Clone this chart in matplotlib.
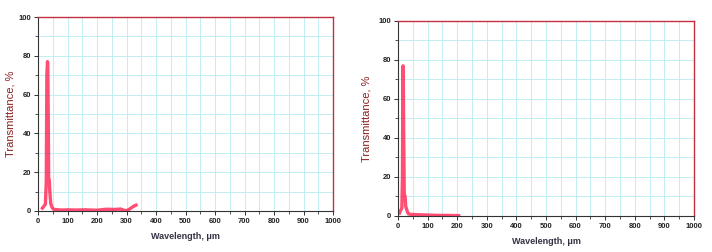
import matplotlib.pyplot as plt
import numpy as np

# Transmittance spectra
wl_a = [15, 20, 25, 28, 30, 32, 33, 34, 35, 36, 38, 40, 43, 47, 52, 60, 80, 100, 130,
        160, 200, 230, 260, 280, 295, 305, 315, 325, 332]
tr_a = [1.5, 2.5, 3.5, 15, 70, 77, 76, 60, 43, 17, 16, 10, 4, 2, 1, 0.7, 0.5, 0.6, 0.5,
        0.6, 0.4, 0.9, 0.8, 1.0, 0.2, 0.4, 1.5, 2.5, 3]

wl_b = [5, 8, 11, 13, 15, 16, 17, 18, 19, 20, 21, 22, 24, 26, 28, 32, 36, 45, 60, 80,
        100, 130, 160, 205]
tr_b = [1.5, 2.5, 3.5, 4, 20, 55, 77, 70, 45, 30, 12, 11, 10, 5, 4, 2, 1, 0.8, 0.7, 0.6,
        0.5, 0.3, 0.3, 0.2]

xticks = np.arange(0, 1001, 100)
yticks = np.arange(0, 101, 20)

fig = plt.figure(figsize=(7.12, 2.52), dpi=100)
ax1 = fig.add_axes([0.0534, 0.1627, 0.4143, 0.7698])
ax2 = fig.add_axes([0.559, 0.1429, 0.4157, 0.7738])

for ax, x, y, lx in [(ax1, wl_a, tr_a, -0.075), (ax2, wl_b, tr_b, -0.088)]:
    ax.plot(x, y, color='#ff2050', lw=2.4, alpha=0.8, solid_joinstyle='round')
    ax.set_xlim(0, 1000)
    ax.set_ylim(0, 100)
    ax.set_xticks(xticks)
    ax.set_yticks(yticks)
    ax.set_xticks(np.arange(50, 1000, 100), minor=True)
    ax.set_yticks(np.arange(10, 100, 20), minor=True)
    ax.grid(True, which='both', color='#c2eef3', lw=0.7)
    ax.set_axisbelow(True)
    for s in ['top', 'right']:
        ax.spines[s].set_color('#c23040')
        ax.spines[s].set_linewidth(1.0)
    for s in ['left', 'bottom']:
        ax.spines[s].set_color('#333333')
        ax.spines[s].set_linewidth(0.8)
    ax.tick_params(which='major', length=3, width=0.7, color='#333333',
                   labelsize=5.5, pad=2, labelcolor='#222222')
    ax.tick_params(which='minor', length=2, width=0.6, color='#333333')
    for lab in ax.get_xticklabels() + ax.get_yticklabels():
        lab.set_fontweight('bold')
        lab.set_family('Liberation Sans')
    ax.set_xlabel('Wavelength, μm', fontsize=6.5, fontweight='bold',
                  family='Liberation Sans', color='#333344', labelpad=5)
    ax.set_ylabel('Transmittance, %', fontsize=8, family='Liberation Sans',
                  color='#8a2020')
    ax.yaxis.set_label_coords(lx, 0.5)

fig.savefig('out.png', dpi=100)
